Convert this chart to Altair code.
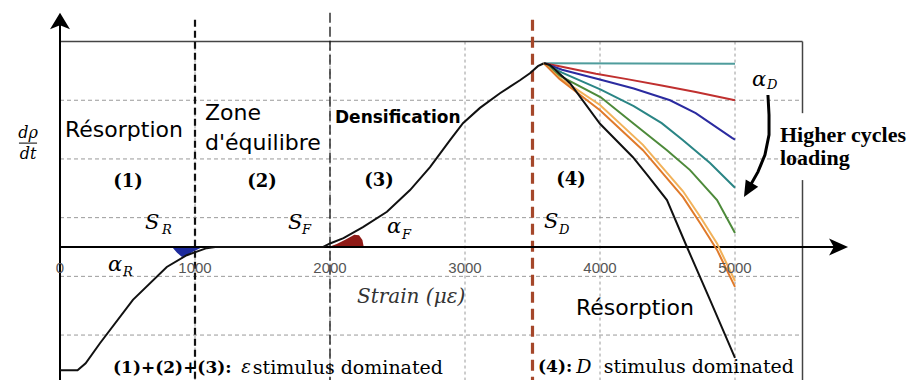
import altair as alt
import pandas as pd

# ---------------- data (strain in µε, dρ/dt in grid units) ----------------
main_x = [0, 130, 190, 296, 540, 791, 939, 1086, 1150, 1950, 2000, 2100, 2244, 2422,
          2593, 2741, 2889, 2985, 3111, 3259, 3407, 3481, 3540, 3585]
main_y = [-2.1, -2.1, -1.98, -1.64, -0.90, -0.34, -0.14, -0.02, 0.0, 0.0, 0.06, 0.15, 0.34, 0.60,
          0.97, 1.36, 1.82, 2.11, 2.37, 2.62, 2.84, 2.96, 3.08, 3.13]

flat_x = [3585, 5000]
flat_y = [3.13, 3.12]
red_x = [3585, 3700, 3970, 4200, 4457, 4709, 5000]
red_y = [3.13, 3.08, 2.95, 2.86, 2.75, 2.64, 2.50]
blue_x = [3585, 3719, 4006, 4250, 4519, 4709, 4978, 5000]
blue_y = [3.13, 3.02, 2.85, 2.70, 2.50, 2.28, 1.86, 1.83]
teal_x = [3585, 3719, 4006, 4250, 4457, 4615, 4815, 5000]
teal_y = [3.13, 2.97, 2.68, 2.40, 2.11, 1.82, 1.43, 1.01]
green_x = [3585, 3700, 4006, 4250, 4496, 4667, 4867, 5000]
green_y = [3.13, 2.92, 2.55, 2.10, 1.65, 1.31, 0.80, 0.24]
lorange_x = [3585, 3700, 4000, 4318, 4615, 4741, 4867, 5000]
lorange_y = [3.13, 2.88, 2.42, 1.74, 0.95, 0.52, 0.06, -0.58]
orange_x = [3585, 3700, 4000, 4318, 4615, 4741, 4867, 5000]
orange_y = [3.13, 2.86, 2.33, 1.65, 0.85, 0.41, -0.05, -0.68]
black_x = [3585, 3630, 3778, 4000, 4244, 4360, 4496, 4644, 4815, 5000]
black_y = [3.13, 3.10, 2.79, 2.10, 1.53, 1.20, 0.80, 0.0, -0.90, -1.89]

series_names = ["flat", "red", "blue", "teal", "green", "lorange", "orange", "black"]
series_colors = ["#4f9c9c", "#c0302f", "#2b2ba0", "#2a8585", "#4d8a3a", "#f2b25a", "#e07a2a", "#111111"]

# angle wedges
wedgeR_x = [830, 867, 904, 941, 985, 1037]
wedgeR_y2 = [0.0, -0.10, -0.17, -0.14, -0.08, -0.02]
wedgeF_x = [1990, 2050, 2120, 2180, 2215, 2240, 2250]
wedgeF_y2 = [0.0, 0.05, 0.13, 0.21, 0.20, 0.12, 0.0]

tick_values = [0, 1000, 2000, 3000, 4000, 5000]
tick_labels = ["0", "1000", "2000", "3000", "4000", "5000"]
grid_y = [2.5, 1.5, 0.5, -0.5, -1.5]
grid_x = [1000, 2000, 3000, 4000, 5000]

arrow_x = [5244, 5252, 5252, 5222, 5170, 5111]
arrow_y = [2.59, 2.25, 1.91, 1.57, 1.28, 1.04]

# ---------------- scales ----------------
W, H = 900, 372
X_DOM = [(8 - 60) / 0.135, (8 + W - 60) / 0.135]
Y_DOM = [(247 - 8 - H) / 58.7, (247 - 8) / 58.7]
YB = Y_DOM[0]
xs = alt.Scale(domain=X_DOM, nice=False, zero=False)
ys = alt.Scale(domain=Y_DOM, nice=False, zero=False)


def X(f):
    return alt.X(f"{f}:Q", scale=xs, axis=None)


def Y(f):
    return alt.Y(f"{f}:Q", scale=ys, axis=None)


def X2(f):
    return alt.X2(f"{f}:Q")


def Y2(f):
    return alt.Y2(f"{f}:Q")


layers = []

# grid
hg = pd.DataFrame({"y": grid_y, "x": 0, "x2": 5500})
layers.append(alt.Chart(hg).mark_rule(color="#9a9a9a", strokeDash=[4, 3], strokeWidth=1)
              .encode(x=X("x"), x2=X2("x2"), y=Y("y")))
vg = pd.DataFrame({"x": grid_x, "y": 3.5, "y2": YB})
layers.append(alt.Chart(vg).mark_rule(color="#9a9a9a", strokeDash=[3, 3], strokeWidth=1)
              .encode(x=X("x"), y=Y("y"), y2=Y2("y2")))

# frame
top = pd.DataFrame({"x": [0], "x2": [5500], "y": [3.5]})
layers.append(alt.Chart(top).mark_rule(color="#444", strokeWidth=1.5)
              .encode(x=X("x"), x2=X2("x2"), y=Y("y")))
rb = pd.DataFrame({"x": [5500, 5500], "y": [3.5, 1.14], "y2": [2.28, YB]})
layers.append(alt.Chart(rb).mark_rule(color="#444", strokeWidth=1.5)
              .encode(x=X("x"), y=Y("y"), y2=Y2("y2")))

# wedges
layers.append(alt.Chart(pd.DataFrame({"x": wedgeR_x, "y": 0.0, "y2": wedgeR_y2}))
              .mark_area(color="#1c2a9c", opacity=1)
              .encode(x=X("x"), y=Y("y"), y2=Y2("y2")))
layers.append(alt.Chart(pd.DataFrame({"x": wedgeF_x, "y": 0.0, "y2": wedgeF_y2}))
              .mark_area(color="#8e1a16", opacity=1)
              .encode(x=X("x"), y=Y("y"), y2=Y2("y2")))

# special vertical lines
layers.append(alt.Chart(pd.DataFrame({"x": [1000], "y": [3.87], "y2": [YB]}))
              .mark_rule(color="#111", strokeWidth=2.2, strokeDash=[7, 4])
              .encode(x=X("x"), y=Y("y"), y2=Y2("y2")))
layers.append(alt.Chart(pd.DataFrame({"x": [2000], "y": [3.99], "y2": [YB]}))
              .mark_rule(color="#111", strokeWidth=1.3, strokeDash=[10, 4])
              .encode(x=X("x"), y=Y("y"), y2=Y2("y2")))
layers.append(alt.Chart(pd.DataFrame({"x": [3500], "y": [3.87], "y2": [YB]}))
              .mark_rule(color="#a5472a", strokeWidth=3.2, strokeDash=[11, 6])
              .encode(x=X("x"), y=Y("y"), y2=Y2("y2")))

# axes
layers.append(alt.Chart(pd.DataFrame({"x": [0], "y": [3.8], "y2": [YB]}))
              .mark_rule(color="#000", strokeWidth=2)
              .encode(x=X("x"), y=Y("y"), y2=Y2("y2")))
layers.append(alt.Chart(pd.DataFrame({"x": [0], "x2": [5760], "y": [0.0]}))
              .mark_rule(color="#000", strokeWidth=2)
              .encode(x=X("x"), x2=X2("x2"), y=Y("y")))
layers.append(alt.Chart(pd.DataFrame({"x": [0], "y": [3.85]}))
              .mark_point(shape="M0,-0.5L0.6,0.5L0,0.25L-0.6,0.5Z", size=1111, filled=True,
                          color="#000", opacity=1, strokeWidth=0)
              .encode(x=X("x"), y=Y("y")))
layers.append(alt.Chart(pd.DataFrame({"x": [5767], "y": [0.0]}))
              .mark_point(shape="M0.5,0L-0.5,0.45L-0.25,0L-0.5,-0.45Z", size=1444, filled=True,
                          color="#000", opacity=1, strokeWidth=0)
              .encode(x=X("x"), y=Y("y")))

# main curve
layers.append(alt.Chart(pd.DataFrame({"x": main_x, "y": main_y, "i": range(len(main_x))}))
              .mark_line(color="#111", strokeWidth=2)
              .encode(x=X("x"), y=Y("y"), order="i:Q"))

# decay curves
rows = []
for name, xv, yv in zip(series_names,
                        [flat_x, red_x, blue_x, teal_x, green_x, lorange_x, orange_x, black_x],
                        [flat_y, red_y, blue_y, teal_y, green_y, lorange_y, orange_y, black_y]):
    for i, (a, b) in enumerate(zip(xv, yv)):
        rows.append({"s": name, "x": a, "y": b, "i": i})
dec = pd.DataFrame(rows)
layers.append(alt.Chart(dec).mark_line(strokeWidth=2)
              .encode(x=X("x"), y=Y("y"), order="i:Q",
                      color=alt.Color("s:N", scale=alt.Scale(domain=series_names, range=series_colors),
                                      legend=None)))

# curved arrow
layers.append(alt.Chart(pd.DataFrame({"x": arrow_x, "y": arrow_y, "i": range(len(arrow_x))}))
              .mark_line(color="#000", strokeWidth=3)
              .encode(x=X("x"), y=Y("y"), order="i:Q"))
layers.append(alt.Chart(pd.DataFrame({"x": [5096], "y": [0.97]}))
              .mark_point(shape="M0,0.5L-0.45,-0.5L0.45,-0.5Z", size=1024, angle=30, filled=True,
                          color="#000", opacity=1, strokeWidth=0)
              .encode(x=X("x"), y=Y("y")))

# fraction bar
layers.append(alt.Chart(pd.DataFrame({"x": [-304], "x2": [-170], "y": [1.77]}))
              .mark_rule(color="#000", strokeWidth=1)
              .encode(x=X("x"), x2=X2("x2"), y=Y("y")))

# ---------------- texts ----------------
SANS, SERIF, LSERIF, LSANS = "DejaVu Sans", "DejaVu Serif", "Liberation Serif", "Liberation Sans"
ann = [
    ("Résorption", 37, 1.99, SANS, "normal", "normal", "left", 22, "#000"),
    ("Zone", 1074, 2.28, SANS, "normal", "normal", "left", 22, "#000"),
    ("d'équilibre", 1074, 1.77, SANS, "normal", "normal", "left", 22, "#000"),
    ("Densification", 2037, 2.20, SANS, "normal", "bold", "left", 17, "#000"),
    ("(1)", 504, 1.11, SERIF, "normal", "bold", "center", 18, "#000"),
    ("(2)", 1496, 1.11, SERIF, "normal", "bold", "center", 18, "#000"),
    ("(3)", 2363, 1.12, SERIF, "normal", "bold", "center", 18, "#000"),
    ("(4)", 3785, 1.14, SERIF, "normal", "bold", "center", 18, "#000"),
    ("Résorption", 3822, -1.04, SANS, "normal", "normal", "left", 22, "#000"),
    ("Strain (με)", 2200, -0.85, SERIF, "italic", "normal", "left", 20, "#333"),
    ("S", 630, 0.41, SERIF, "italic", "normal", "left", 21, "#000"),
    ("R", 756, 0.29, SERIF, "italic", "normal", "left", 13, "#000"),
    ("α", 356, -0.31, SERIF, "italic", "normal", "left", 21, "#000"),
    ("R", 467, -0.43, SERIF, "italic", "normal", "left", 13, "#000"),
    ("S", 1689, 0.41, SERIF, "italic", "normal", "left", 21, "#000"),
    ("F", 1793, 0.29, SERIF, "italic", "normal", "left", 13, "#000"),
    ("α", 2422, 0.34, SERIF, "italic", "normal", "left", 21, "#000"),
    ("F", 2533, 0.20, SERIF, "italic", "normal", "left", 13, "#000"),
    ("S", 3585, 0.43, SERIF, "italic", "normal", "left", 21, "#000"),
    ("D", 3696, 0.29, SERIF, "italic", "normal", "left", 13, "#000"),
    ("α", 5126, 2.84, SERIF, "italic", "normal", "left", 21, "#000"),
    ("D", 5237, 2.76, SERIF, "italic", "normal", "left", 13, "#000"),
    ("(1)+(2)+(3):", 393, -2.06, SERIF, "normal", "bold", "left", 17, "#000"),
    ("ε", 1378, -2.06, SERIF, "italic", "normal", "center", 18, "#000"),
    ("stimulus dominated", 2837, -2.06, SERIF, "normal", "normal", "right", 19, "#000"),
    ("(4):", 3541, -2.04, SERIF, "normal", "bold", "left", 17, "#000"),
    ("D", 3881, -2.04, SERIF, "italic", "normal", "center", 19, "#000"),
    ("stimulus dominated", 5437, -2.04, SERIF, "normal", "normal", "right", 19, "#000"),
    ("Higher cycles", 5333, 1.91, LSERIF, "normal", "bold", "left", 22, "#000"),
    ("loading", 5333, 1.52, LSERIF, "normal", "bold", "left", 22, "#000"),
    ("dρ", -237, 1.95, SERIF, "italic", "normal", "center", 16, "#000"),
    ("dt", -237, 1.58, SERIF, "italic", "normal", "center", 16, "#000"),
]
for lab, v in zip(tick_labels, tick_values):
    ann.append((lab, v, -0.36, LSANS, "normal", "normal", "center", 15, "#555"))

adf = pd.DataFrame(ann, columns=["text", "x", "y", "font", "style", "weight", "align", "size", "color"])
for (font, style, weight, align), g in adf.groupby(["font", "style", "weight", "align"]):
    layers.append(alt.Chart(g).mark_text(font=font, fontStyle=style, fontWeight=weight,
                                         align=align, baseline="middle")
                  .encode(x=X("x"), y=Y("y"), text="text:N",
                          size=alt.Size("size:Q", scale=None),
                          color=alt.Color("color:N", scale=None)))

chart = (alt.layer(*layers)
         .properties(width=W, height=H, padding=0, autosize="none", background="white")
         .configure_view(stroke=None))

chart.save("out.html", embed_options={"renderer": "svg", "actions": False})
